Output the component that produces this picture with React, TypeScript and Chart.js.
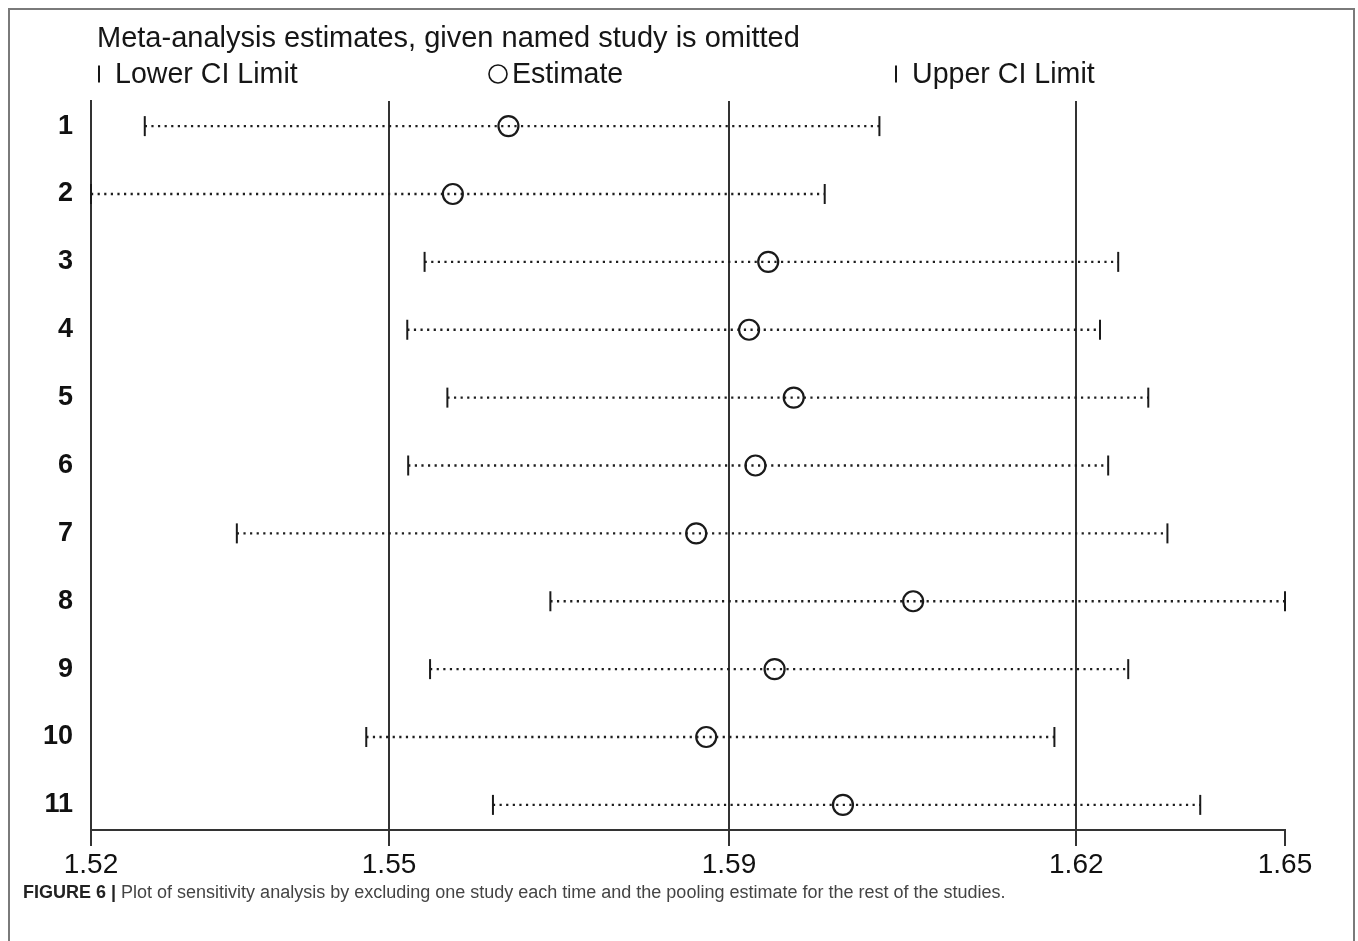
import React, { useEffect, useRef } from "react";
import { Chart, registerables } from "chart.js";

Chart.register(...registerables);

const TITLE = "Meta-analysis estimates, given named study is omitted";
const CAPTION_LABEL = "FIGURE 6 |";
const CAPTION_TEXT =
  " Plot of sensitivity analysis by excluding one study each time and the pooling estimate for the rest of the studies.";

const studies = [1, 2, 3, 4, 5, 6, 7, 8, 9, 10, 11];
const lowerCI = [1.5219, 1.516, 1.5526, 1.5507, 1.5551, 1.5508, 1.532, 1.5664, 1.5532, 1.5462, 1.5601];
const estimate = [1.5618, 1.5557, 1.5903, 1.5882, 1.5931, 1.5889, 1.5824, 1.6062, 1.591, 1.5835, 1.5985];
const upperCI = [1.6025, 1.5965, 1.6287, 1.6267, 1.632, 1.6276, 1.6341, 1.647, 1.6298, 1.6217, 1.6377];
// pooled lower CI, pooled estimate, pooled upper CI (reference lines)
const pooled = [1.5487, 1.586, 1.6241];
const seriesLabels = ["Lower CI Limit", "Estimate", "Upper CI Limit"];

const xMin = Math.min(...lowerCI);
const xMax = Math.max(...upperCI);
const xTickValues = [xMin, ...pooled, xMax];
const xTickLabels = xTickValues.map((v) => v.toFixed(2));

const FONT = '"Liberation Sans", Arial, Helvetica, sans-serif';
const INK = "#161616";

const headerPlugin = {
  id: "headerLegend",
  afterDraw(chart: any) {
    const ctx = chart.ctx as CanvasRenderingContext2D;
    ctx.save();
    ctx.fillStyle = INK;
    ctx.strokeStyle = INK;
    ctx.textBaseline = "alphabetic";
    ctx.textAlign = "left";
    ctx.font = `29px ${FONT}`;
    ctx.fillText(TITLE, 97, 47);

    ctx.font = `28.6px ${FONT}`;
    const symX = [99, 498, 896];
    const textX = [115, 512, 912];
    const symY = 74;
    seriesLabels.forEach((lab, i) => {
      ctx.lineWidth = i === 1 ? 1.6 : 2;
      ctx.beginPath();
      if (i === 1) {
        ctx.arc(symX[i], symY, 9, 0, Math.PI * 2);
      } else {
        ctx.moveTo(symX[i], symY - 8.5);
        ctx.lineTo(symX[i], symY + 8.5);
      }
      ctx.stroke();
      ctx.fillText(lab, textX[i], 83);
    });
    ctx.restore();
  },
};

export default function App() {
  const ref = useRef<HTMLCanvasElement | null>(null);

  useEffect(() => {
    if (!ref.current) return;
    const ciLines = studies.map((s, i) => ({
      label: `Study ${s}`,
      data: [
        { x: lowerCI[i], y: s },
        { x: upperCI[i], y: s },
      ],
      showLine: true,
      borderColor: "#1e1e1e",
      borderWidth: 2.4,
      borderDash: [2.2, 4.4],
      borderCapStyle: "butt",
      pointRadius: 0,
      clip: false,
    }));

    const chart = new Chart(ref.current, {
      type: "scatter",
      data: {
        datasets: [
          {
            label: seriesLabels[1],
            data: estimate.map((x, i) => ({ x, y: studies[i] })),
            pointStyle: "circle",
            pointRadius: 10,
            pointBorderWidth: 2.2,
            pointBorderColor: "#1a1a1a",
            pointBackgroundColor: "rgba(0,0,0,0)",
            borderColor: "#1a1a1a",
            backgroundColor: "rgba(0,0,0,0)",
            clip: false,
          },
          {
            label: seriesLabels[0],
            data: lowerCI.map((x, i) => ({ x, y: studies[i] })),
            pointStyle: "line",
            pointRotation: 90,
            pointRadius: 10,
            pointBorderWidth: 2,
            pointBorderColor: "#1a1a1a",
            borderColor: "#1a1a1a",
            clip: false,
          },
          {
            label: seriesLabels[2],
            data: upperCI.map((x, i) => ({ x, y: studies[i] })),
            pointStyle: "line",
            pointRotation: 90,
            pointRadius: 10,
            pointBorderWidth: 2,
            pointBorderColor: "#1a1a1a",
            borderColor: "#1a1a1a",
            clip: false,
          },
          ...ciLines,
        ] as any,
      },
      options: {
        animation: false,
        responsive: true,
        maintainAspectRatio: false,
        layout: { padding: { left: 0, right: 73, top: 101, bottom: 0 } },
        plugins: {
          legend: { display: false },
          tooltip: { enabled: false },
          title: { display: false },
        },
        scales: {
          x: {
            type: "linear",
            min: xMin,
            max: xMax,
            afterBuildTicks: (s: any) => {
              s.ticks = xTickValues.map((v) => ({ value: v }));
            },
            afterFit: (s: any) => {
              s.height = 70;
            },
            ticks: {
              autoSkip: false,
              maxRotation: 0,
              padding: 2,
              color: "#111",
              font: { family: FONT, size: 28 },
              callback: (_v: any, i: number) => xTickLabels[i],
            },
            grid: {
              drawOnChartArea: true,
              drawTicks: true,
              tickLength: 16,
              lineWidth: 2,
              color: (c: any) =>
                c.index === 0 || c.index === xTickValues.length - 1 ? "rgba(0,0,0,0)" : "#333",
              tickColor: "#333",
            },
            border: { display: true, color: "#333", width: 2 },
          },
          y: {
            type: "linear",
            reverse: true,
            min: 0.63,
            max: 11.37,
            afterBuildTicks: (s: any) => {
              s.ticks = studies.map((v) => ({ value: v }));
            },
            afterFit: (s: any) => {
              s.width = 91;
            },
            ticks: {
              autoSkip: false,
              padding: 18,
              color: "#111",
              font: { family: FONT, size: 27, weight: "bold" },
              callback: (_v: any, i: number) => String(studies[i]),
            },
            grid: { display: false, drawTicks: false },
            border: { display: true, color: "#333", width: 2 },
          },
        },
      } as any,
      plugins: [headerPlugin],
    });
    return () => chart.destroy();
  }, []);

  return (
    <div
      style={{
        position: "fixed",
        left: 0,
        top: 0,
        width: 1358,
        height: 941,
        background: "#fff",
        overflow: "hidden",
      }}
    >
      <div style={{ position: "absolute", left: 0, top: 0, width: 1358, height: 900 }}>
        <canvas ref={ref} />
      </div>
      <div
        style={{
          position: "absolute",
          left: 8,
          top: 8,
          width: 1347,
          height: 960,
          border: "2px solid #7a7a7a",
          boxSizing: "border-box",
          pointerEvents: "none",
        }}
      />
      <div
        style={{
          position: "absolute",
          left: 23,
          top: 882,
          fontFamily: FONT,
          fontSize: 18,
          whiteSpace: "nowrap",
          color: "#444",
        }}
      >
        <span style={{ fontWeight: "bold", color: "#222" }}>{CAPTION_LABEL}</span>
        {CAPTION_TEXT}
      </div>
    </div>
  );
}
